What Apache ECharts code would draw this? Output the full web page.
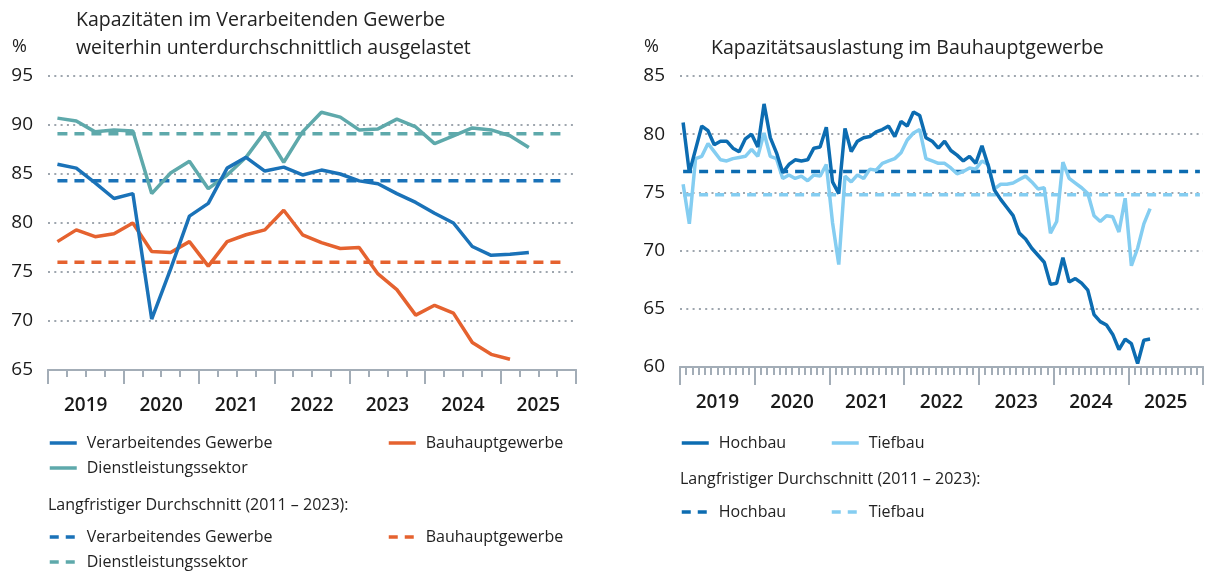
<!DOCTYPE html>
<html>
<head>
<meta charset="utf-8">
<script src="https://cdn.jsdelivr.net/npm/echarts@6/dist/echarts.min.js"></script>
<style>
  html, body { margin: 0; padding: 0; background: #fff; }
  #chart { width: 1212px; height: 572px; }
</style>
</head>
<body>
<div id="chart"></div>
<script>
// years on both x axes
var years = ['2019', '2020', '2021', '2022', '2023', '2024', '2025'];

// left: quarterly values 2019Q1 ...
var verarbeitendes = [86.0, 85.6, 84.1, 82.5, 83.0, 70.2, 75.3, 80.7, 82.0, 85.6, 86.7, 85.3, 85.7,
  84.9, 85.4, 85.0, 84.3, 84.0, 83.0, 82.1, 81.0, 80.0, 77.6, 76.7, 76.8, 77.0];
var bauhaupt = [78.1, 79.3, 78.6, 78.9, 80.0, 77.1, 77.0, 78.1, 75.6, 78.1, 78.8, 79.3, 81.3,
  78.8, 78.0, 77.4, 77.5, 74.8, 73.2, 70.6, 71.6, 70.8, 67.8, 66.6, 66.1];
var dienstleistung = [90.7, 90.4, 89.3, 89.5, 89.4, 83.0, 85.1, 86.3, 83.5, 84.9, 86.7, 89.3, 86.2,
  89.3, 91.3, 90.8, 89.5, 89.6, 90.6, 89.8, 88.1, 88.9, 89.7, 89.5, 88.9, 87.7];
// long-term averages 2011-2023
var avgVerarbeitendes = 84.3;
var avgBauhaupt = 76.0;
var avgDienstleistung = 89.1;

// right: monthly values Jan 2019 ...
var hochbau = [81.0, 76.7, 78.7, 80.7, 80.3, 79.1, 79.4, 79.4, 78.8, 78.5, 79.6, 80.0,
  78.9, 82.6, 79.7, 78.4, 76.7, 77.4, 77.8, 77.7, 77.8, 78.8, 78.9, 80.6,
  75.9, 74.9, 80.5, 78.5, 79.4, 79.7, 79.8, 80.2, 80.4, 80.7, 79.8, 81.1,
  80.7, 81.9, 81.6, 79.7, 79.4, 78.8, 79.4, 78.6, 78.2, 77.7, 78.1, 77.5,
  79.0, 77.3, 75.2, 74.4, 73.7, 73.0, 71.5, 71.0, 70.2, 69.6, 69.0, 67.1,
  67.2, 69.4, 67.3, 67.6, 67.2, 66.6, 64.5, 63.9, 63.6, 62.8, 61.5, 62.4,
  62.0, 60.3, 62.3, 62.4];
var tiefbau = [75.7, 72.3, 77.9, 78.1, 79.2, 78.5, 77.8, 77.7, 77.9, 78.0, 78.1, 78.7,
  78.1, 80.1, 78.1, 77.9, 76.2, 76.5, 76.2, 76.4, 76.0, 76.5, 76.4, 77.4,
  72.4, 68.8, 76.4, 75.9, 76.5, 76.2, 77.0, 76.9, 77.5, 77.7, 77.9, 78.4,
  79.5, 80.1, 80.4, 77.9, 77.7, 77.5, 77.5, 77.1, 76.6, 76.8, 77.1, 77.0,
  77.7, 77.4, 75.3, 75.7, 75.7, 75.8, 76.1, 76.4, 75.9, 75.3, 75.4, 71.5,
  72.5, 77.6, 76.2, 75.8, 75.4, 74.9, 73.0, 72.5, 73.0, 72.9, 71.6, 74.5,
  68.7, 70.2, 72.3, 73.6];
var avgHochbau = 76.8;
var avgTiefbau = 74.8;

var quarters = [];
var months = [];
years.forEach(function (y) {
  for (var q = 1; q <= 4; q++) quarters.push(y + 'Q' + q);
  for (var m = 1; m <= 12; m++) months.push(y + '-' + m);
});

var FONT = 'Open Sans';
var C_VG = '#1a72b8', C_BAU = '#e5622f', C_DL = '#5ea9ab';
var C_HOCH = '#0c6cb1', C_TIEF = '#84cdf1';
var AXIS_C = '#a3adb7';

function lineSeries(name, data, color, x, y, dashed) {
  return {
    name: name, type: 'line', data: data, xAxisIndex: x, yAxisIndex: y,
    symbol: 'none', silent: true, z: dashed ? 2 : 3,
    lineStyle: { color: color, width: 3.5, type: dashed ? dashed : 'solid' },
    itemStyle: { color: color }
  };
}
// flat average line from first to last category
function avgLine(v, n) { return [[0, v], [n - 1, v]]; }

function leg(name, x, y, dashed) {
  return {
    data: [name], left: x, top: y, itemWidth: 27, itemHeight: 14,
    selectedMode: false, padding: 0,
    itemStyle: { opacity: 0 },
    lineStyle: { width: 3.5, type: dashed ? [9, 7] : 'solid' },
    formatter: function (n) { return n.replace(' (Ø)', ''); },
    textStyle: { fontFamily: FONT, fontSize: 16, color: '#222', padding: [0, 0, 0, 5] }
  };
}

function baseX(grid, cats, tickLen, show) {
  return {
    type: 'category', gridIndex: grid, data: cats, boundaryGap: true, position: 'bottom',
    axisLine: { show: true, lineStyle: { color: AXIS_C, width: 2 } },
    axisTick: { show: true, interval: 0, length: tickLen, lineStyle: { color: AXIS_C, width: 2 } },
    axisLabel: show ? { interval: 0, margin: 26, fontFamily: FONT, fontSize: 19, fontWeight: 600, color: '#1a1a1a' } : { show: false },
    splitLine: { show: false }
  };
}
function baseY(grid, min, max) {
  return {
    type: 'value', gridIndex: grid, min: min, max: max, interval: 5,
    axisLine: { show: false }, axisTick: { show: false },
    axisLabel: { margin: 15, fontFamily: FONT, fontSize: 19, color: '#1a1a1a' },
    splitLine: { show: true, showMinLine: false, lineStyle: { color: '#9ea6ae', width: 2, type: [2, 4.3] } }
  };
}

var titleStyle = { fontFamily: FONT, fontSize: 19.5, fontWeight: 'normal', color: '#222', lineHeight: 28 };
var chart = echarts.init(document.getElementById('chart'));
chart.setOption({
  backgroundColor: '#fff',
  animation: false,
  textStyle: { fontFamily: FONT },
  title: [
    { text: 'Kapazitäten im Verarbeitenden Gewerbe\nweiterhin unterdurchschnittlich ausgelastet', left: 76, top: 6, padding: 0,
      textStyle: titleStyle },
    { text: '%', left: 12, top: 38, padding: 0, textStyle: { fontFamily: FONT, fontSize: 18, fontWeight: 'normal', color: '#222' } },
    { text: 'Kapazitätsauslastung im Bauhauptgewerbe', left: 711, top: 34, padding: 0,
      textStyle: titleStyle },
    { text: '%', left: 644, top: 38, padding: 0, textStyle: { fontFamily: FONT, fontSize: 18, fontWeight: 'normal', color: '#222' } }
  ],
  grid: [
    { left: 48, right: 636, top: 76, bottom: 202 },
    { left: 680, right: 9, top: 76, bottom: 205 }
  ],
  xAxis: [
    baseX(0, quarters, 7, false),
    baseX(0, years, 14, true),
    baseX(1, months, 8, false),
    baseX(1, years, 18, true)
  ],
  yAxis: [baseY(0, 65, 95), baseY(1, 60, 85)],
  legend: [
    leg('Verarbeitendes Gewerbe', 48, 435),
    leg('Bauhauptgewerbe', 387, 435),
    leg('Dienstleistungssektor', 48, 460),
    leg('Verarbeitendes Gewerbe (Ø)', 48, 529, true),
    leg('Bauhauptgewerbe (Ø)', 387, 529, true),
    leg('Dienstleistungssektor (Ø)', 48, 554, true),
    leg('Hochbau', 680, 435),
    leg('Tiefbau', 830, 435),
    leg('Hochbau (Ø)', 680, 504, true),
    leg('Tiefbau (Ø)', 830, 504, true)
  ],
  graphic: [
    { type: 'text', left: 48, top: 497, style: { text: 'Langfristiger Durchschnitt (2011 – 2023):', font: '16px "Open Sans"', fill: '#222' } },
    { type: 'text', left: 680, top: 471, style: { text: 'Langfristiger Durchschnitt (2011 – 2023):', font: '16px "Open Sans"', fill: '#222' } }
  ],
  series: [
    lineSeries('Dienstleistungssektor (Ø)', avgLine(avgDienstleistung, quarters.length), C_DL, 0, 0, [10, 7]),
    lineSeries('Verarbeitendes Gewerbe (Ø)', avgLine(avgVerarbeitendes, quarters.length), C_VG, 0, 0, [10, 7]),
    lineSeries('Bauhauptgewerbe (Ø)', avgLine(avgBauhaupt, quarters.length), C_BAU, 0, 0, [10, 7]),
    lineSeries('Dienstleistungssektor', dienstleistung, C_DL, 0, 0),
    lineSeries('Bauhauptgewerbe', bauhaupt, C_BAU, 0, 0),
    lineSeries('Verarbeitendes Gewerbe', verarbeitendes, C_VG, 0, 0),
    lineSeries('Hochbau (Ø)', avgLine(avgHochbau, months.length), C_HOCH, 2, 1, [9, 7]),
    lineSeries('Tiefbau (Ø)', avgLine(avgTiefbau, months.length), C_TIEF, 2, 1, [9, 7]),
    lineSeries('Tiefbau', tiefbau, C_TIEF, 2, 1),
    lineSeries('Hochbau', hochbau, C_HOCH, 2, 1)
  ]
});
</script>
</body>
</html>
